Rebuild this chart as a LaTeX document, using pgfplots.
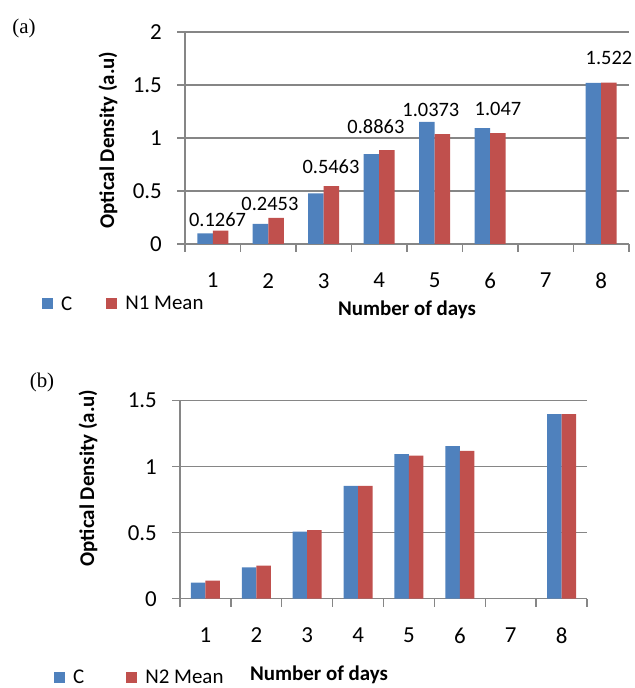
\documentclass[border=0pt]{standalone}
\usepackage{pgfplots}
\pgfplotsset{compat=1.18}
\usepackage{fontspec}
\setmainfont{Carlito}
\newfontfamily\timesfont{Liberation Serif}
\definecolor{cblue}{RGB}{79,129,189}
\definecolor{cred}{RGB}{192,80,77}
\definecolor{axgray}{RGB}{134,134,134}
\pgfplotsset{
  common/.style={
    scale only axis, anchor=south west,
    axis lines*=left,
    axis line style={axgray, line width=1.3bp},
    every tick/.style={axgray, line width=1.3bp},
    major grid style={axgray, line width=1.3bp},
    ymajorgrids,
    tick align=outside, major tick length=8bp,
    xmin=0.5, xmax=8.5,
    xtick={0.5,1.5,...,8.5},
    xticklabels={1,2,3,4,5,6,7,8,{}},
    /pgf/number format/assume math mode=true,
    tick label style={font=\fontsize{23}{27}\selectfont, black},
    yticklabel style={anchor=east, inner sep=0pt},
    xticklabel style={anchor=north, inner sep=0pt},
    legend columns=2,
    legend image code/.code={\fill[##1] (0bp,-5.5bp) rectangle (11bp,5.5bp);},
  }
}
\begin{document}
\begin{tikzpicture}
\useasboundingbox (0,0) rectangle (635bp,688bp);
% ---------- (a)
\begin{axis}[common, at={(185bp,444bp)}, width=444bp, height=212bp,
  ymin=0, ymax=2, ytick={0,0.5,1,1.5,2},
  xticklabel style={xshift=27.75bp, yshift=-21bp},
  yticklabel style={xshift=-15bp},
  legend style={at={(-0.3221,-0.283)}, anchor=west, draw=none, fill=none,
    inner sep=0pt, font=\fontsize{21}{25}\selectfont,
    /tikz/every odd column/.append style={column sep=6bp},
    /tikz/every even column/.append style={column sep=32bp}},
  ]
\addplot[ybar, bar width=15.5bp, bar shift=-7.75bp, fill=cblue, draw=none]
  coordinates {(1,0.10) (2,0.19) (3,0.478) (4,0.849) (5,1.151) (6,1.094) (8,1.519)};
\addplot[ybar, bar width=15.5bp, bar shift=7.75bp, fill=cred, draw=none]
  coordinates {(1,0.1267) (2,0.2453) (3,0.5463) (4,0.8863) (5,1.0373) (6,1.047) (8,1.522)};
\legend{C, N1 Mean}
\addplot[forget plot, only marks, mark=*, mark size=0pt, mark options={draw=none, fill=none},
  point meta=explicit symbolic, nodes near coords={\pgfplotspointmeta},
  every node near coord/.style={anchor=base, inner sep=0pt, black, font=\fontsize{20.5}{24}\selectfont}]
  coordinates {(1.086,0.163)[0.1267] (2.03,0.314)[0.2453] (3.13,0.667)[0.5463]
   (3.94,1.044)[0.8863] (4.93,1.201)[1.0373] (6.14,1.21)[1.047] (8.14,1.695)[1.522]};
\end{axis}
\node[font=\timesfont\fontsize{21}{25}\selectfont] at (24bp,660bp) {(a)};
\node[rotate=90, font=\bfseries\fontsize{21}{25}\selectfont] at (108bp,548bp) {Optical Density (a.u)};
\node[font=\bfseries\fontsize{21}{25}\selectfont] at (407bp,378bp) {Number of days};
% ---------- (b)
\begin{axis}[common, at={(180bp,89.3bp)}, width=407bp, height=198bp,
  ymin=0, ymax=1.5, ytick={0,0.5,1,1.5},
  xticklabel style={xshift=25.44bp, yshift=-21bp},
  yticklabel style={xshift=-15bp},
  legend style={at={(-0.3096,-0.3965)}, anchor=west, draw=none, fill=none,
    inner sep=0pt, font=\fontsize{21}{25}\selectfont,
    /tikz/every odd column/.append style={column sep=6bp},
    /tikz/every even column/.append style={column sep=40bp}},
  ]
\addplot[ybar, bar width=14.5bp, bar shift=-7.25bp, fill=cblue, draw=none]
  coordinates {(1,0.121) (2,0.238) (3,0.508) (4,0.854) (5,1.096) (6,1.155) (8,1.399)};
\addplot[ybar, bar width=14.5bp, bar shift=7.25bp, fill=cred, draw=none]
  coordinates {(1,0.136) (2,0.25) (3,0.52) (4,0.854) (5,1.083) (6,1.119) (8,1.399)};
\legend{C, N2 Mean}
\end{axis}
\node[font=\timesfont\fontsize{21}{25}\selectfont] at (42bp,306bp) {(b)};
\node[rotate=90, font=\bfseries\fontsize{21}{25}\selectfont] at (88bp,210bp) {Optical Density (a.u)};
\node[font=\bfseries\fontsize{21}{25}\selectfont] at (319bp,13bp) {Number of days};
\end{tikzpicture}
\end{document}
